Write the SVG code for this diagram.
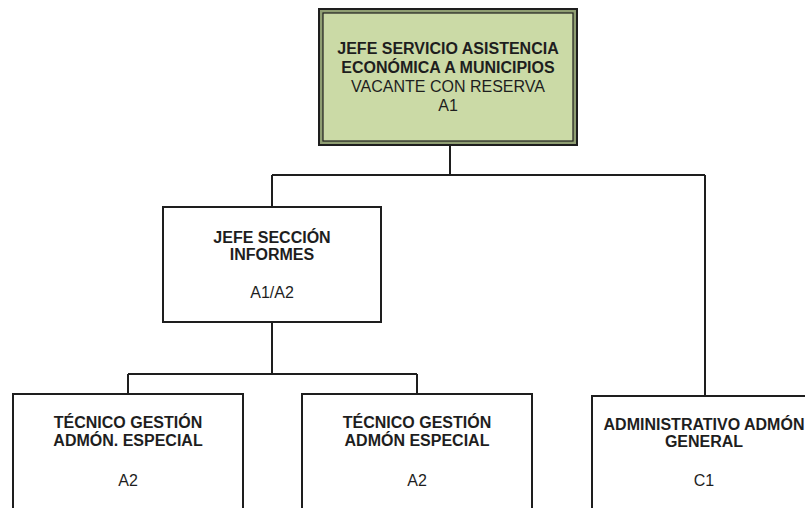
<svg xmlns="http://www.w3.org/2000/svg" width="805" height="508" viewBox="0 0 805 508">
<style>
.box{fill:#ffffff;stroke:#1e1e1e;stroke-width:2}
.conn{fill:none;stroke:#1e1e1e;stroke-width:2}
.t{font-family:"Liberation Sans",Arial,sans-serif;font-size:16px;fill:#1e1e1e;text-anchor:middle}
.b{font-weight:bold}
</style>
<rect width="805" height="508" fill="#ffffff"/>
<g id="connectors">
<path class="conn" d="M450,146 V175 M272,175 H705 M272,175 V207 M705,175 V396"/>
<path class="conn" d="M272,322 V374 M128,374 H417 M128,374 V394 M417,374 V394"/>
</g>
<g id="jefe-servicio">
<rect x="319" y="9" width="258" height="136" fill="#8f9e72" stroke="#1e1e1e" stroke-width="2"/>
<rect x="323" y="13" width="250" height="128" fill="#cbdaa6" stroke="#1e1e1e" stroke-width="1.2"/>
<text class="t b" x="448" y="54">JEFE SERVICIO ASISTENCIA</text>
<text class="t b" x="448" y="73">ECONÓMICA A MUNICIPIOS</text>
<text class="t" x="448" y="92">VACANTE CON RESERVA</text>
<text class="t" x="448" y="111">A1</text>
</g>
<g id="jefe-seccion">
<rect class="box" x="163" y="207" width="218" height="115"/>
<text class="t b" x="272" y="243">JEFE SECCIÓN</text>
<text class="t b" x="272" y="260">INFORMES</text>
<text class="t" x="272" y="298">A1/A2</text>
</g>
<g id="tecnico-1">
<rect class="box" x="13" y="394" width="230" height="130"/>
<text class="t b" x="128" y="428">TÉCNICO GESTIÓN</text>
<text class="t b" x="128" y="446">ADMÓN. ESPECIAL</text>
<text class="t" x="128" y="486">A2</text>
</g>
<g id="tecnico-2">
<rect class="box" x="302" y="394" width="230" height="130"/>
<text class="t b" x="417" y="428">TÉCNICO GESTIÓN</text>
<text class="t b" x="417" y="446">ADMÓN ESPECIAL</text>
<text class="t" x="417" y="486">A2</text>
</g>
<g id="administrativo">
<rect class="box" x="592" y="396" width="226" height="130"/>
<text class="t b" x="704" y="430">ADMINISTRATIVO ADMÓN</text>
<text class="t b" x="704" y="447">GENERAL</text>
<text class="t" x="704" y="486">C1</text>
</g>
</svg>
